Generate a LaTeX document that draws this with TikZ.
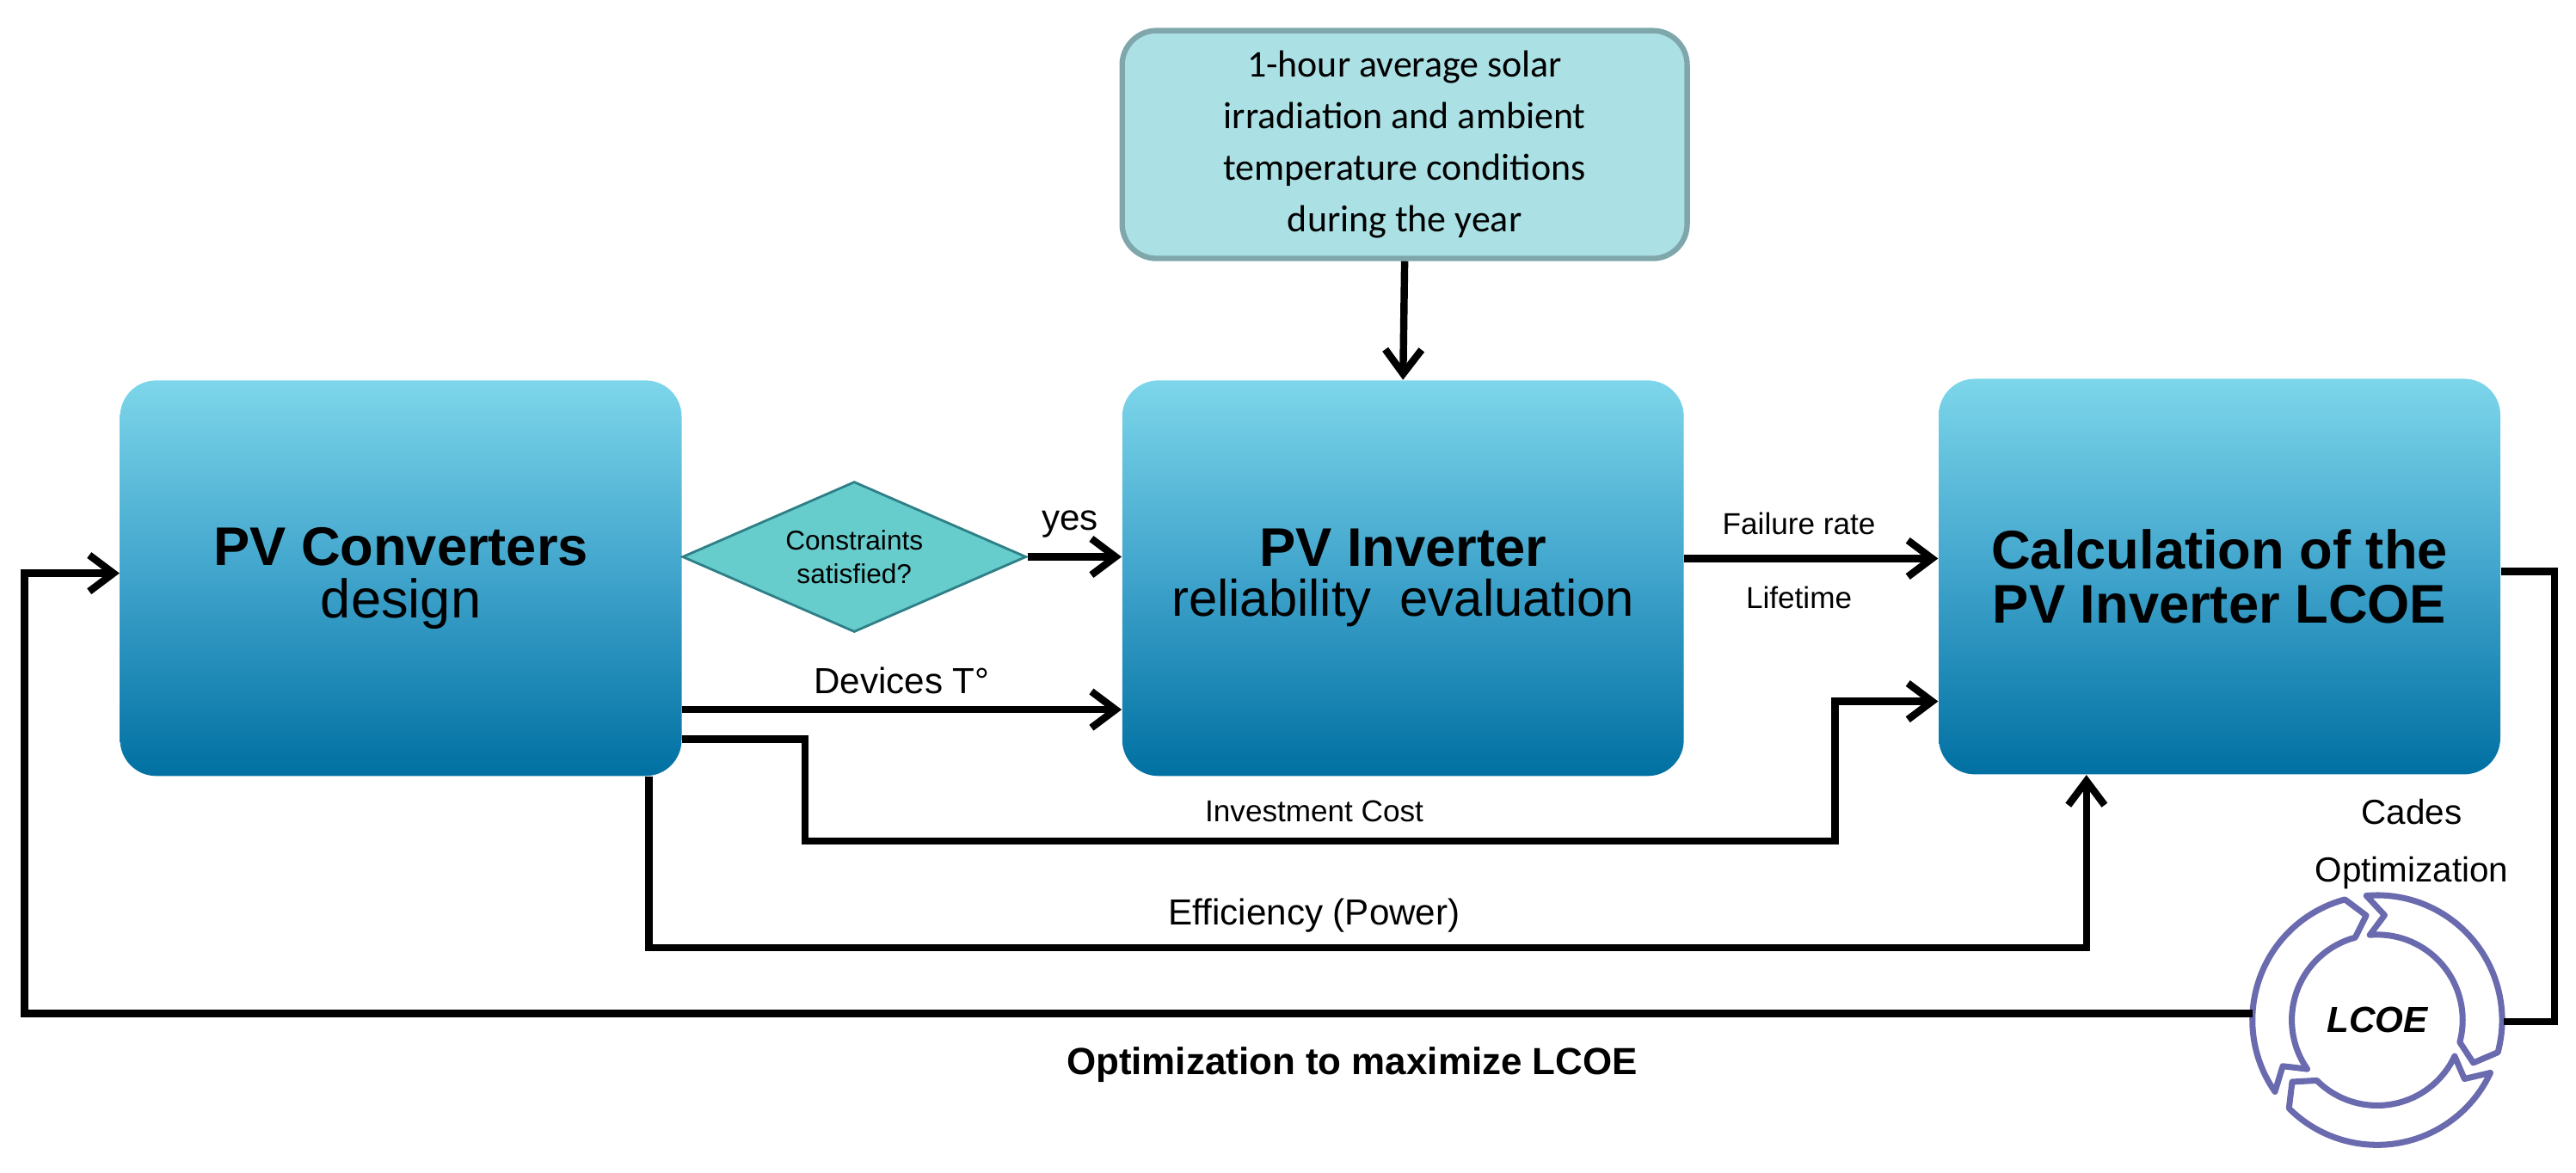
\documentclass[tikz,border=0pt]{standalone}
\usepackage{fontspec}
\setmainfont{Liberation Sans}
\newfontfamily\calib{Carlito}
\usetikzlibrary{arrows.meta,shapes.geometric,calc}
\definecolor{btop}{HTML}{7DD6EA}
\definecolor{bmid}{HTML}{3FA3CB}
\definecolor{bbot}{HTML}{0070A2}
\definecolor{purp}{HTML}{6A6AAE}
\definecolor{tfill}{HTML}{ABE1E5}
\definecolor{tdraw}{HTML}{7FA7AB}
\definecolor{dfill}{HTML}{66CCCC}
\definecolor{ddraw}{HTML}{2E7F86}
\begin{document}
\begin{tikzpicture}[x=0.0191cm,y=-0.0191cm,
  box/.style={rounded corners=0.42cm,minimum width=6.53cm,minimum height=4.6cm,
    top color=btop,bottom color=bbot,middle color=bmid,draw=none,align=center,inner sep=0pt},
  conn/.style={line width=2.4pt,-{Straight Barb[length=8pt,width=12pt,line width=2.4pt]}},
  line/.style={line width=2.4pt},
  lab/.style={font=\fontsize{12}{14}\selectfont,inner sep=1pt},
  slab/.style={font=\fontsize{10}{12}\selectfont,inner sep=1pt},
  seg/.style={draw=purp,line width=2pt,line join=round}]
\useasboundingbox (0,0) rectangle (1568,714);
\node[box] (L) at (244,352) {\fontsize{18}{22}\selectfont\textbf{PV Converters}\\[3pt]\fontsize{18}{22}\selectfont design};
\node[box] (M) at (854,352) {\fontsize{18}{22}\selectfont\textbf{PV Inverter}\\[3pt]\fontsize{17}{22}\selectfont reliability\ \ evaluation};
\node[box] (R) at (1351,351) {\fontsize{18}{22}\selectfont\textbf{Calculation of the}\\[4pt]\fontsize{18}{22}\selectfont\textbf{PV Inverter LCOE}};
\node[rounded corners=0.4cm,minimum width=6.57cm,minimum height=2.65cm,fill=tfill,draw=tdraw,line width=1.8pt,inner sep=0pt,align=center,font=\calib\fontsize{12.5}{17}\selectfont] (T) at (855,88) {1-hour average solar\\irradiation and ambient\\temperature conditions\\during the year};
\node[diamond,aspect=2.3,minimum width=4.0cm,minimum height=1.75cm,inner sep=0pt,fill=dfill,draw=ddraw,line width=0.8pt,align=center,font=\fontsize{9}{11}\selectfont] (D) at (520,339) {Constraints\\satisfied?};
% arrows
\draw[conn] (T.south) -- (M.north);
\draw[conn] (D.east) -- (M.west |- D.east) node[pos=0.45,above=4pt,lab]{yes};
\coordinate (d1) at (415,432);
\draw[conn] (d1) -- (M.west |- d1) node[midway,above=3pt,lab]{Devices T\textdegree};
\coordinate (i1) at (415,450);
\coordinate (i2) at (490,512);
\coordinate (i3) at (1117,427);
\draw[conn] (i1) -| (i2) -| (i3) -- (R.west |- i3);
\node[slab,above=5pt] at (800,512) {Investment Cost};
\coordinate (e1) at (395,473);
\coordinate (e2) at (1270,577);
\draw[conn] (e1) |- (e2) -- (R.south -| e2);
\node[lab,above=4pt] at (800,577) {Efficiency (Power)};
\coordinate (f1) at (1025,340);
\draw[conn] (f1) -- (R.west |- f1);
\node[slab] at (1095,319) {Failure rate};
\node[slab] at (1095,364) {Lifetime};
% LCOE cycle
\coordinate (C) at (1447,621);
\foreach \a/\b in {215/105, 95/-15, -25/-135}{
  \draw[seg] ($(C)+(\a:76 and -76)$) arc[start angle=\a,end angle=\b,x radius=76,y radius=-76]
     -- ($(C)+(\b-9:64 and -64)$) -- ($(C)+(\b:52 and -52)$)
     arc[start angle=\b,end angle=\a,x radius=52,y radius=-52]
     -- ($(C)+(\a-9:64 and -64)$) -- cycle;
}
\node[font=\fontsize{12}{14}\selectfont\bfseries\itshape] (LC) at (C) {LCOE};
\node[font=\fontsize{11.5}{19}\selectfont,align=center] at (1468,514) {Cades\\Optimization};
% feedback
\coordinate (r1) at (1555,348);
\coordinate (r2) at (1555,622);
\draw[line] (R.east |- r1) -- (r1) -- (r2) -- (1524,622);
\coordinate (b1) at (1371,617);
\coordinate (b2) at (15,617);
\coordinate (b3) at (15,349);
\draw[conn] (b1) -- (b2) -- (b3) -- (L.west |- b3);
\node[font=\fontsize{12.5}{14}\selectfont\bfseries] at (823,648) {Optimization to maximize LCOE};
\end{tikzpicture}
\end{document}
